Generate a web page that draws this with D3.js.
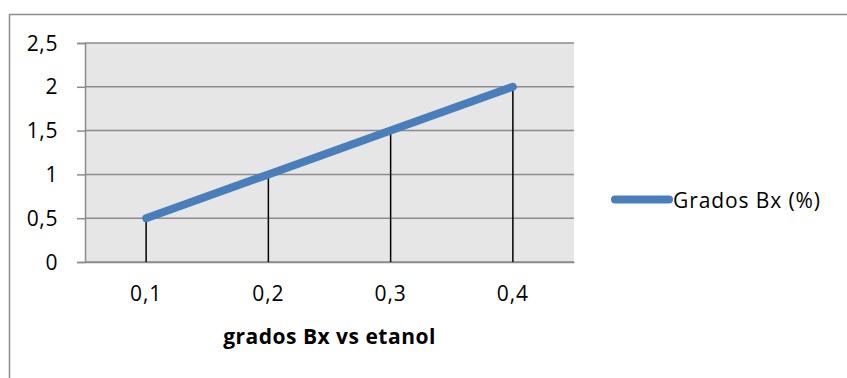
<!DOCTYPE html>
<html>
<head>
<meta charset="utf-8">
<script src="https://cdn.jsdelivr.net/npm/d3@7"></script>
<style>
  html, body { margin: 0; padding: 0; background: #fff; }
  svg { display: block; }
  text { font-family: "Open Sans", Lato, "Liberation Sans", sans-serif; fill: #000; }
</style>
</head>
<body>
<svg id="chart" width="847" height="378"></svg>
<script>
// Etanol concentration categories and measured Brix degrees
const categories = ["0,1", "0,2", "0,3", "0,4"];
const gradosBx = [0.5, 1.0, 1.5, 2.0];
const yTicks = [0, 0.5, 1, 1.5, 2, 2.5];
const seriesName = "Grados Bx (%)";
const axisTitle = "grados Bx vs etanol";

const svg = d3.select("#chart");
const plot = { left: 85, right: 574, top: 43, bottom: 262 };
const blue = "#4a7ebb";
const grid = "#8c8c8c";

// outer chart frame (runs past the visible edge on the right and bottom)
svg.append("rect")
  .attr("x", 9.5).attr("y", 14.5)
  .attr("width", 900).attr("height", 400)
  .attr("fill", "#fff").attr("stroke", "#8c8c8c").attr("stroke-width", 1.5);

const x = d3.scaleBand().domain(categories).range([plot.left, plot.right]);
const y = d3.scaleLinear().domain([0, 2.5]).range([plot.bottom, plot.top]);
const fmt = d => String(d).replace(".", ",");

// plot area background
svg.append("rect")
  .attr("x", plot.left).attr("y", plot.top)
  .attr("width", plot.right - plot.left).attr("height", plot.bottom - plot.top)
  .attr("fill", "#e6e6e6");

// horizontal gridlines
svg.append("g").selectAll("line").data(yTicks).join("line")
  .attr("x1", plot.left).attr("x2", plot.right)
  .attr("y1", d => y(d)).attr("y2", d => y(d))
  .attr("stroke", grid).attr("stroke-width", 1.5);

// value axis
const yAxis = svg.append("g")
  .attr("transform", `translate(${plot.left},0)`)
  .call(d3.axisLeft(y).tickValues(yTicks).tickFormat(fmt).tickSize(8).tickPadding(19));
yAxis.select(".domain").attr("stroke", grid).attr("stroke-width", 1.5);
yAxis.selectAll(".tick line").attr("stroke", grid).attr("stroke-width", 1.5);
yAxis.selectAll("text").style("font-size", "21px").style("letter-spacing", "0.6px")
  .attr("fill", "#000").attr("dy", "0.34em");

// category axis
const xAxis = svg.append("g")
  .attr("transform", `translate(0,${plot.bottom})`)
  .call(d3.axisBottom(x).tickSize(0).tickPadding(24));
xAxis.select(".domain").attr("stroke", grid).attr("stroke-width", 1.5);
xAxis.selectAll("text").style("font-size", "21px").style("letter-spacing", "1px").attr("fill", "#000");

const cx = (d, i) => x(categories[i]) + x.bandwidth() / 2;

// drop lines from each point down to the axis
svg.append("g").selectAll("line").data(gradosBx).join("line")
  .attr("x1", cx).attr("x2", cx)
  .attr("y1", d => y(d)).attr("y2", y(0))
  .attr("stroke", "#000").attr("stroke-width", 1.5);

// series line
const line = d3.line().x(cx).y(d => y(d));
svg.append("path")
  .datum(gradosBx)
  .attr("d", line)
  .attr("fill", "none")
  .attr("stroke", blue)
  .attr("stroke-width", 8)
  .attr("stroke-linecap", "round")
  .attr("stroke-linejoin", "round");

// axis title
svg.append("text")
  .attr("x", (plot.left + plot.right) / 2)
  .attr("y", 344)
  .attr("text-anchor", "middle")
  .style("font-size", "21px")
  .style("font-weight", "bold")
  .style("letter-spacing", "0.5px")
  .text(axisTitle);

// legend
const legend = svg.append("g");
legend.append("line")
  .attr("x1", 615).attr("x2", 669)
  .attr("y1", 199.5).attr("y2", 199.5)
  .attr("stroke", blue).attr("stroke-width", 8)
  .attr("stroke-linecap", "round");
legend.append("text")
  .attr("x", 673).attr("y", 208)
  .style("font-size", "21px")
  .style("letter-spacing", "0.9px")
  .text(seriesName);
</script>
</body>
</html>
